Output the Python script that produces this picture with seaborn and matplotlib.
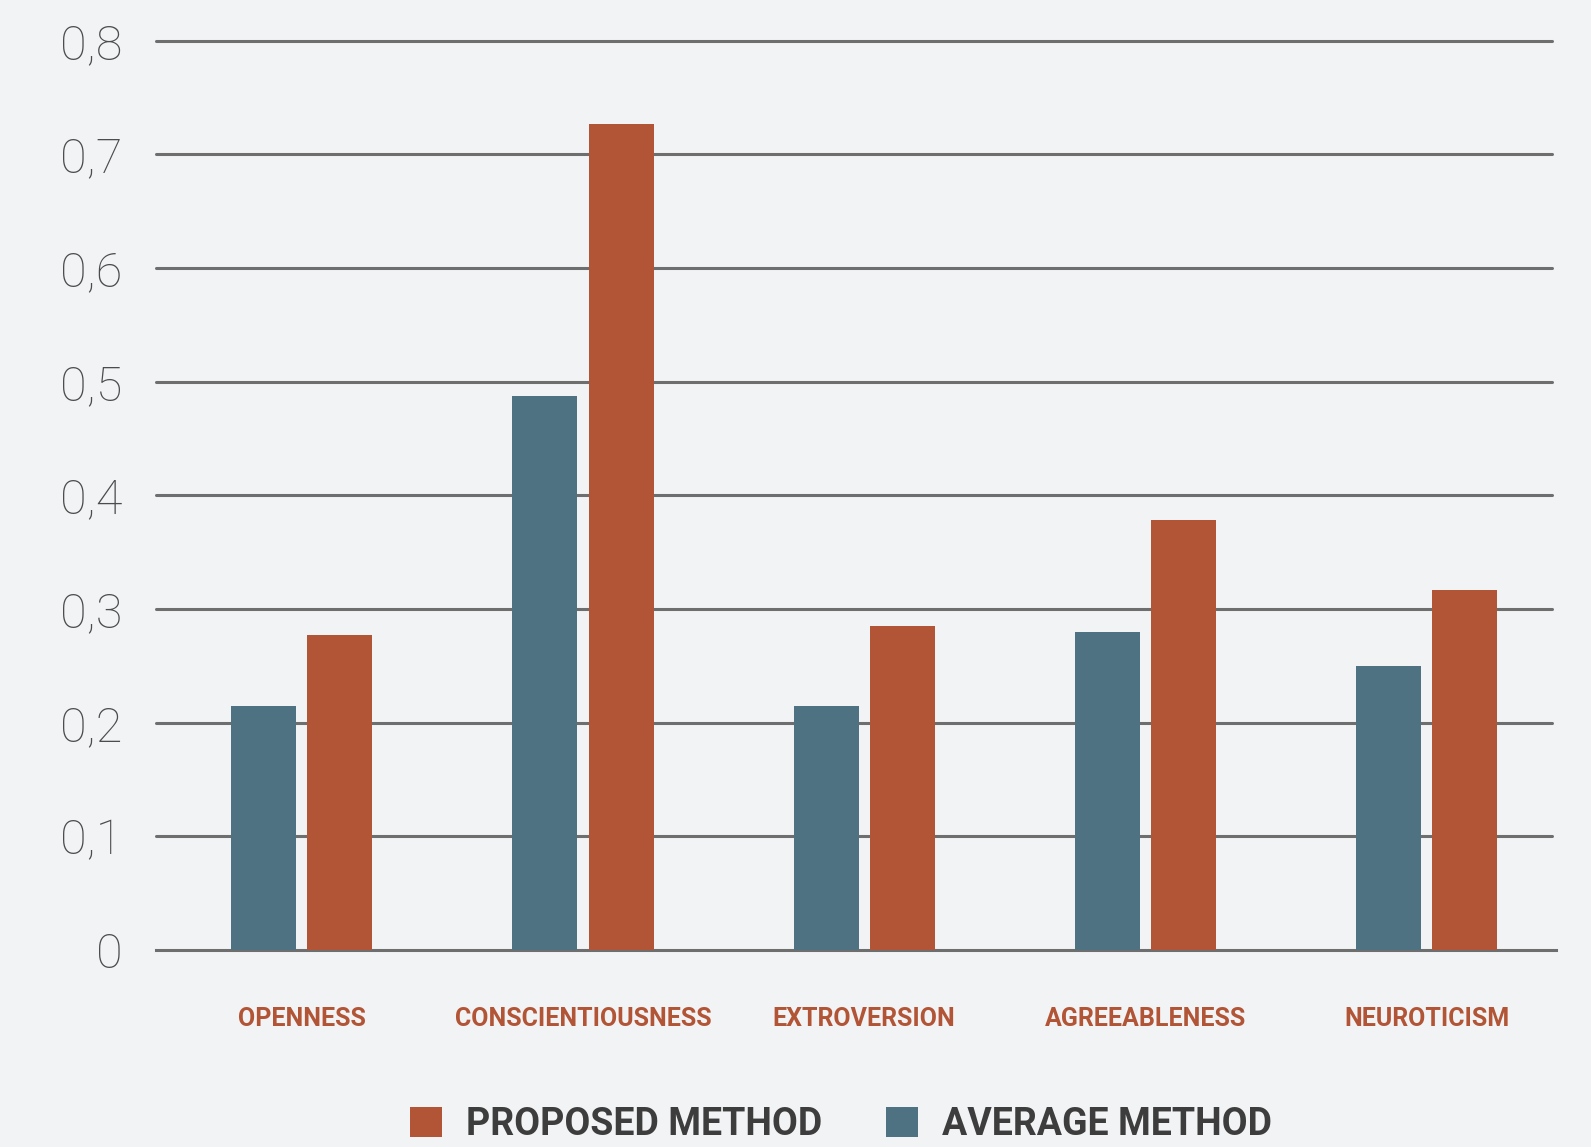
import matplotlib
matplotlib.use("Agg")
import matplotlib.pyplot as plt
from matplotlib.patches import Patch
from matplotlib.ticker import FixedLocator
import pandas as pd
import seaborn as sns

# Big Five traits and the two methods' scores
traits = ["OPENNESS", "CONSCIENTIOUSNESS", "EXTROVERSION", "AGREEABLENESS", "NEUROTICISM"]
average_method = [0.215, 0.487, 0.215, 0.280, 0.250]
proposed_method = [0.277, 0.727, 0.285, 0.378, 0.317]
y_ticks = [0, 0.1, 0.2, 0.3, 0.4, 0.5, 0.6, 0.7, 0.8]
y_tick_labels = ["0", "0,1", "0,2", "0,3", "0,4", "0,5", "0,6", "0,7", "0,8"]
method_names = ["AVERAGE METHOD", "PROPOSED METHOD"]

BG = "#f2f3f5"
BLUE = "#4e7282"
ORANGE = "#b25536"
GRID = "#6e6e6e"
TEXT_DARK = "#3d3d3d"
TEXT_AXIS = "#4c4c4c"

sns.set_theme(style="white")
plt.rcParams["font.family"] = ["Roboto", "DejaVu Sans"]

df = pd.DataFrame({
    "trait": traits * 2,
    "method": [method_names[0]] * len(traits) + [method_names[1]] * len(traits),
    "value": average_method + proposed_method,
})

W, H = 1591, 1147
fig = plt.figure(figsize=(W / 100, H / 100), dpi=100, facecolor=BG)
ax = fig.add_axes([156 / W, 1 - 950 / H, (1556 - 156) / W, (950 - 40.7) / H])
ax.set_facecolor(BG)

sns.barplot(data=df, x="trait", y="value", hue="method", order=traits,
            hue_order=method_names, palette=[BLUE, ORANGE], width=0.542,
            gap=0.147, errorbar=None, legend=False, ax=ax, saturation=1,
            linewidth=0, edgecolor="none")

ax.set_xlim(-0.518, 4.46)
ax.set_ylim(0, 0.8)
ax.set_axisbelow(True)

# horizontal gridlines
for v in y_ticks[1:]:
    ax.axhline(v, xmax=0.997, color=GRID, lw=2.2, zorder=0.5, clip_on=False)

for s in ["top", "right", "left"]:
    ax.spines[s].set_visible(False)
ax.spines["bottom"].set_color(GRID)
ax.spines["bottom"].set_linewidth(2.2)
ax.spines["bottom"].set_zorder(0.6)

ax.set_yticks(y_ticks)
ax.set_yticklabels(y_tick_labels, fontweight="light", fontsize=35, color=TEXT_AXIS)
ax.tick_params(axis="y", length=0, pad=24)

ax.set_xticks(range(len(traits)))
ax.set_xticklabels(traits, fontsize=18, fontweight="bold", color=ORANGE)
ax.tick_params(axis="x", which="major", length=0, pad=41)
ax.xaxis.set_minor_locator(FixedLocator([0.5, 1.5, 2.5, 3.5, 4.46]))
ax.tick_params(axis="x", which="minor", direction="inout", length=16,
               width=2.2, color=GRID)
ax.set_xlabel("")
ax.set_ylabel("")

handles = [Patch(facecolor=ORANGE, edgecolor="none", label="PROPOSED METHOD"),
           Patch(facecolor=BLUE, edgecolor="none", label="AVERAGE METHOD")]
leg = fig.legend(handles=handles, loc="center", bbox_to_anchor=(0.5287, 0.020),
                 ncol=2, frameon=False, handlelength=0.85,
                 handleheight=0.85, handletextpad=0.65, columnspacing=1.7,
                 prop={"weight": "bold", "size": 27})
for t in leg.get_texts():
    t.set_color(TEXT_DARK)

fig.savefig("out.png", dpi=100, facecolor=BG)
